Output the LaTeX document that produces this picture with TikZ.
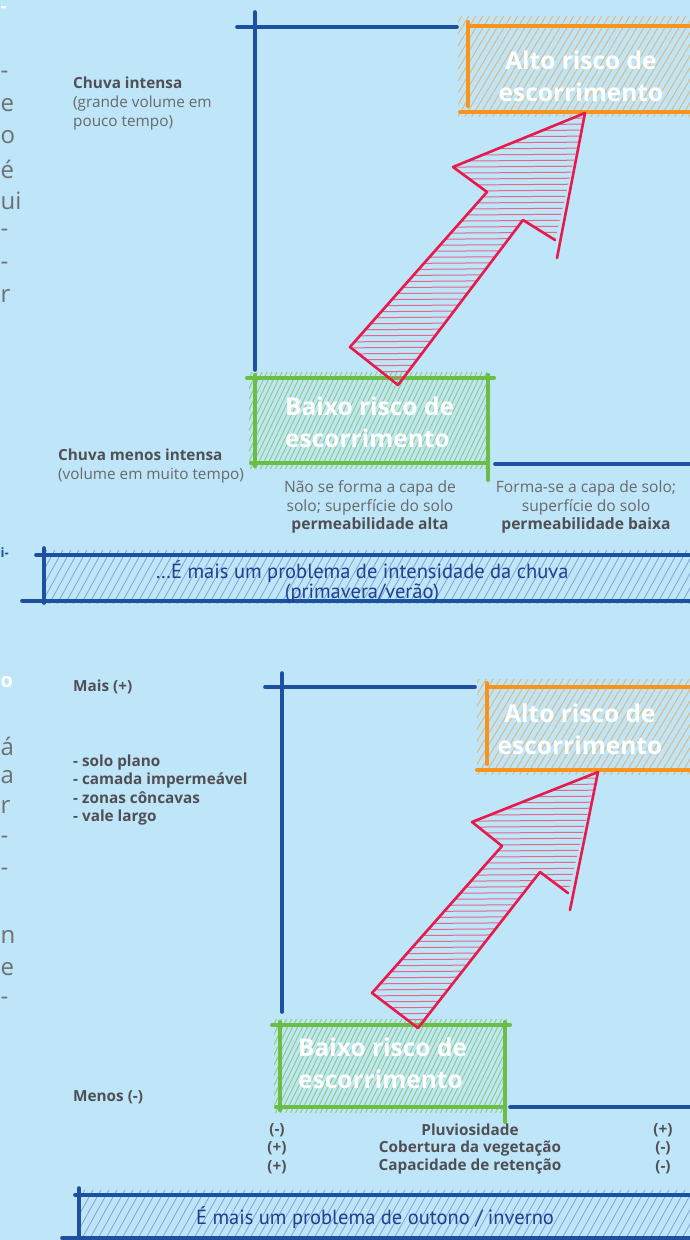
\documentclass[tikz,border=0pt]{standalone}
\usepackage{fontspec}
\setmainfont{Open Sans}
\newfontfamily\bannerfont{PT Sans}
\definecolor{bg}{RGB}{190,229,248}
\definecolor{axisblue}{RGB}{30,80,160}
\definecolor{oline}{RGB}{247,148,29}
\definecolor{ohatch}{RGB}{228,182,122}
\definecolor{gline}{RGB}{106,189,69}
\definecolor{ghatch}{RGB}{140,205,112}
\definecolor{rline}{RGB}{232,25,75}
\definecolor{rhatch}{RGB}{226,104,136}
\definecolor{bhatch}{RGB}{125,165,214}
\definecolor{txtbold}{RGB}{80,80,84}
\definecolor{txtreg}{RGB}{104,105,108}
\definecolor{bantxt}{RGB}{33,62,145}
\definecolor{fraggrey}{RGB}{110,112,115}
\tikzset{
  axis/.style={draw=axisblue,line width=3.6,line cap=round},
  oedge/.style={draw=oline,line width=3.6,line cap=round},
  gedge/.style={draw=gline,line width=3.6,line cap=round},
  redge/.style={draw=rline,line width=2.6,line cap=round,line join=round},
  ohl/.style={draw=ohatch,line width=0.9},
  ghl/.style={draw=ghatch,line width=0.9},
  bhl/.style={draw=bhatch,line width=0.8},
  rhl/.style={draw=rhatch,line width=1.0},
  boxarea/.style={inner sep=0},
  riskt/.style={text=white,font=\fontsize{24.5}{32}\selectfont\bfseries,inner sep=0},
  lblb/.style={text=txtbold,font=\fontsize{15.3}{18.6}\selectfont\bfseries,inner sep=0,anchor=west,align=left},
  lblr/.style={text=txtreg,font=\fontsize{15.6}{18.6}\selectfont,inner sep=0,align=center},
  bant/.style={text=bantxt,font=\bannerfont\fontsize{20.5}{20.5}\selectfont,inner sep=0,align=center},
  frag/.style={text=fraggrey,font=\fontsize{24}{30}\selectfont\mdseries,inner sep=0,anchor=west}
}
\begin{document}
\begin{tikzpicture}[x=1pt,y=-1pt]
\useasboundingbox (0,0) rectangle (690,1240);
\clip (0,0) rectangle (690,1240);
\fill[bg] (0,0) rectangle (690,1240);

% ---------- cut-off fragments at the left edge ----------
\node[frag,text=white,font=\fontsize{18}{22}\selectfont\bfseries] (f0) at (0.5,10) {-};
\node[frag] (f1) at (0.5,75) {-};
\node[frag] (f2) at (0.5,105) {e};
\node[frag] (f3) at (0.5,137) {o};
\node[frag] (f4) at (0.5,169) {é};
\node[frag] (f5) at (0.5,201) {ui};
\node[frag] (f6) at (0.5,233) {-};
\node[frag] (f7) at (0.5,266) {-};
\node[frag] (f8) at (0.5,296) {r};
\node[frag,text=axisblue,font=\fontsize{13}{16}\selectfont\bfseries] (f9) at (0.5,553) {i-};
\node[frag,text=white,font=\fontsize{20}{22}\selectfont\bfseries] (f10) at (0.5,682) {o};
\node[frag] (f11) at (0.5,746) {á};
\node[frag] (f12) at (0.5,777) {a};
\node[frag] (f13) at (0.5,807) {r};
\node[frag] (f14) at (0.5,840) {-};
\node[frag] (f15) at (0.5,872) {-};
\node[frag] (f16) at (0.5,937) {n};
\node[frag] (f17) at (0.5,969) {e};
\node[frag] (f18) at (0.5,1001) {-};

% ================= TOP DIAGRAM =================
\node[boxarea,minimum width=232,minimum height=86] (alto1) at (584,69) {};
\node[boxarea,minimum width=233,minimum height=85] (baixo1) at (371.5,420.5) {};
\begin{scope}
  \clip (458,16) rectangle (690,116);
  \foreach \k in {380,387,...,700} \draw[ohl] (\k,118) -- ++(62,-104);
\end{scope}
\begin{scope}
  \clip (249,372) rectangle (490,468);
  \foreach \k in {160,165,...,500} \draw[ghl] (\k,470) -- ++(48,-100);
\end{scope}
\draw[axis] (255,12) -- (255,370);
\draw[axis] (237,27) -- (457,27);
\draw[axis] (495,464) -- (690,464);
\draw[oedge] (alto1.north west) -- (alto1.north east);
\draw[oedge] ([shift={(0,-4)}]alto1.north west) -- ([shift={(0,-6)}]alto1.south west);
\draw[oedge] ([shift={(-8,0)}]alto1.south west) -- (alto1.south east);
\draw[gedge] ([shift={(-8,0)}]baixo1.north west) -- ([shift={(6,0)}]baixo1.north east);
\draw[gedge] ([shift={(0,-3)}]baixo1.north west) -- ([shift={(0,3)}]baixo1.south west);
\draw[gedge] ([shift={(0,-3)}]baixo1.north east) -- ([shift={(0,17)}]baixo1.south east);
\draw[gedge] ([shift={(-4,0)}]baixo1.south west) -- (baixo1.south east);
% red arrow 1
\coordinate (a1t) at (398,385); \coordinate (a1l) at (350,347);
\coordinate (a1s) at (487,192); \coordinate (a1h) at (453,167);
\coordinate (a1p) at (585,113); \coordinate (a1r) at (557,258);
\coordinate (a1n) at (555,240); \coordinate (a1q) at (523,220);
\begin{scope}
  \clip (a1t) -- (a1l) -- (a1s) -- (a1h) -- (a1p) -- (a1n) -- (a1q) -- cycle;
  \foreach \k in {108,114,...,392} \draw[rhl] (330,\k) -- (600,\k-2);
\end{scope}
\draw[redge] (a1q) -- (a1t) -- (a1l) -- (a1s) -- (a1h) -- (a1p) -- (a1r);
\draw[redge] (a1n) -- (a1q);
% texts
\node[riskt,align=center] (alto1t) at (581,76) {Alto risco de\\escorrimento};
\node[riskt,align=left,anchor=west] (baixo1t) at (285,422.5) {Baixo risco de\\escorrimento};
\node[lblb] (chi) at (73,103.5) {Chuva intensa\\\mdseries\color{txtreg}(grande volume em\\\mdseries\color{txtreg}pouco tempo)};
\node[lblb] (chmi) at (58,466) {Chuva menos intensa\\\mdseries\color{txtreg}(volume em muito tempo)};
\node[lblr] (perma) at (370,507) {Não se forma a capa de\\solo; superfície do solo\\\bfseries\color{txtbold}permeabilidade alta};
\node[lblr] (permb) at (586,507) {Forma-se a capa de solo;\\superfície do solo\\\bfseries\color{txtbold}permeabilidade baixa};
% banner 1
\begin{scope}
  \clip (44,550) rectangle (690,603);
  \foreach \k in {0,8,...,700} \draw[bhl] (\k,606) -- ++(32,-58);
\end{scope}
\draw[axis] (36,555) -- (690,555);
\draw[axis] (22,601) -- (690,601);
\draw[axis] (44,548) -- (44,603);
\node[bant] (ban1) at (362,582) {…É mais um problema de intensidade da chuva\\(primavera/verão)};

% ================= BOTTOM DIAGRAM =================
\node[boxarea,minimum width=213,minimum height=83] (alto2) at (593.5,728.5) {};
\node[boxarea,minimum width=225,minimum height=82] (baixo2) at (392.5,1066) {};
\begin{scope}
  \clip (477,679) rectangle (690,774);
  \foreach \k in {400,407,...,700} \draw[ohl] (\k,776) -- ++(60,-100);
\end{scope}
\begin{scope}
  \clip (274,1019) rectangle (507,1112);
  \foreach \k in {180,185,...,520} \draw[ghl] (\k,1114) -- ++(48,-98);
\end{scope}
\draw[axis] (282,673) -- (282,1012);
\draw[axis] (265,687) -- (475,687);
\draw[axis] (510,1107) -- (690,1107);
\draw[oedge] (alto2.north west) -- (alto2.north east);
\draw[oedge] ([shift={(0,-4)}]alto2.north west) -- ([shift={(0,-6)}]alto2.south west);
\draw[oedge] ([shift={(-10,0)}]alto2.south west) -- (alto2.south east);
\draw[gedge] ([shift={(-8,0)}]baixo2.north west) -- ([shift={(5,0)}]baixo2.north east);
\draw[gedge] ([shift={(0,-3)}]baixo2.north west) -- ([shift={(0,3)}]baixo2.south west);
\draw[gedge] ([shift={(0,-3)}]baixo2.north east) -- ([shift={(0,15)}]baixo2.south east);
\draw[gedge] ([shift={(-4,0)}]baixo2.south west) -- (baixo2.south east);
% red arrow 2
\coordinate (a2t) at (418,1028); \coordinate (a2l) at (372,993);
\coordinate (a2s) at (502,846); \coordinate (a2h) at (472,822);
\coordinate (a2p) at (598,772); \coordinate (a2r) at (570,910);
\coordinate (a2n) at (568,893); \coordinate (a2q) at (540,872);
\begin{scope}
  \clip (a2t) -- (a2l) -- (a2s) -- (a2h) -- (a2p) -- (a2n) -- (a2q) -- cycle;
  \foreach \k in {768,774,...,1032} \draw[rhl] (350,\k) -- (620,\k-2);
\end{scope}
\draw[redge] (a2q) -- (a2t) -- (a2l) -- (a2s) -- (a2h) -- (a2p) -- (a2r);
\draw[redge] (a2n) -- (a2q);
% texts
\node[riskt,align=center] (alto2t) at (580,729) {Alto risco de\\escorrimento};
\node[riskt,align=left,anchor=west] (baixo2t) at (298,1063) {Baixo risco de\\escorrimento};
\node[lblb] (mais) at (73,687) {Mais (+)};
\node[lblb] (list) at (73,790) {- solo plano\\- camada impermeável\\- zonas côncavas\\- vale largo};
\node[lblb] (menos) at (73,1097) {Menos (-)};
\node[lblb,anchor=center] (r1a) at (277,1130) {(-)};
\node[lblb,anchor=center] (r1b) at (470,1130) {Pluviosidade};
\node[lblb,anchor=center] (r1c) at (663,1130) {(+)};
\node[lblb,anchor=center] (r2a) at (277,1148.5) {(+)};
\node[lblb,anchor=center] (r2b) at (470,1148.5) {Cobertura da vegetação};
\node[lblb,anchor=center] (r2c) at (663,1148.5) {(-)};
\node[lblb,anchor=center] (r3a) at (277,1167) {(+)};
\node[lblb,anchor=center] (r3b) at (470,1167) {Capacidade de retenção};
\node[lblb,anchor=center] (r3c) at (663,1167) {(-)};
% banner 2
\begin{scope}
  \clip (79,1190) rectangle (690,1240);
  \foreach \k in {40,48,...,720} \draw[bhl] (\k,1242) -- ++(30,-54);
\end{scope}
\draw[axis] (75,1195) -- (690,1195);
\draw[axis] (62,1238) -- (690,1238);
\draw[axis] (79,1188) -- (79,1242);
\node[bant] (ban2) at (375,1218) {É mais um problema de outono / inverno};
\end{tikzpicture}
\end{document}
